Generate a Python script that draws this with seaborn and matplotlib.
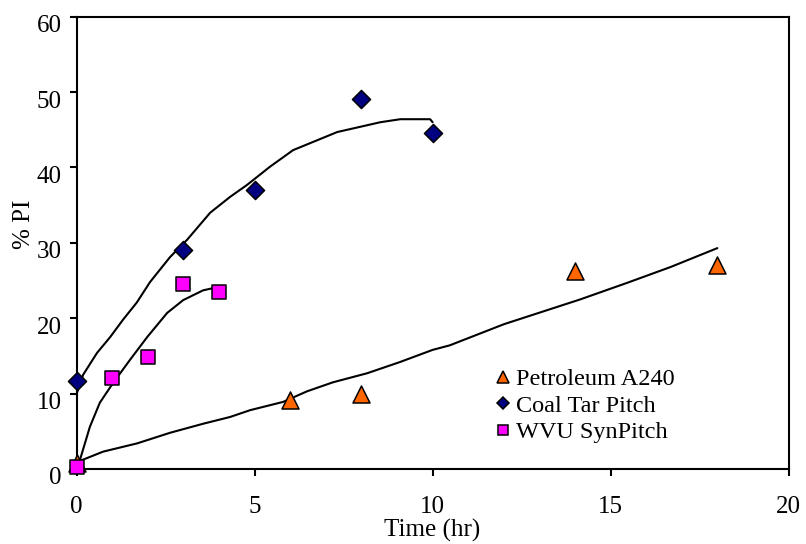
import matplotlib
matplotlib.use("Agg")
import matplotlib.pyplot as plt
import seaborn as sns
import pandas as pd
from matplotlib.lines import Line2D
from matplotlib.transforms import ScaledTranslation

# Measured points
petro_t = [0, 6, 8, 14, 18]
petro_pi = [0.8, 9.2, 10.0, 26.2, 27.1]
coal_t = [0, 3, 5, 8, 10]
coal_pi = [11.7, 29.1, 37.0, 49.1, 44.6]
wvu_t = [0, 1, 2, 3, 4]
wvu_pi = [0.3, 12.1, 14.8, 24.6, 23.5]

# Trend curves
petro_curve_t = [0, 0.74, 1.70, 2.62, 3.55, 4.31, 4.87, 5.80, 6.47, 7.20, 8.16,
                 9.09, 10.0, 10.48, 12.0, 14.15, 15.47, 16.69, 18.0]
petro_curve_pi = [0.9, 2.3, 3.4, 4.8, 6.0, 6.9, 7.8, 8.9, 10.3, 11.5, 12.7,
                  14.2, 15.8, 16.4, 19.2, 22.5, 24.7, 26.8, 29.3]
coal_curve_t = [0, 0.18, 0.57, 0.94, 1.30, 1.69, 2.06, 2.62, 3.10, 3.75, 4.31,
                4.79, 5.43, 6.08, 7.32, 8.53, 9.09, 9.93, 10.0]
coal_curve_pi = [10.0, 12.5, 15.4, 17.5, 19.8, 22.1, 24.8, 28.1, 30.4, 34.0, 36.1,
                 37.7, 40.1, 42.3, 44.7, 46.0, 46.4, 46.4, 46.0]
wvu_curve_t = [0, 0.09, 0.37, 0.65, 1.02, 1.50, 1.98, 2.54, 2.99, 3.55, 3.94, 4.03]
wvu_curve_pi = [0.3, 1.2, 5.6, 8.8, 11.4, 14.5, 17.5, 20.7, 22.4, 23.7, 24.1, 24.0]

labels = ["Petroleum A240", "Coal Tar Pitch", "WVU SynPitch"]
colors = ["#FF6600", "#000080", "#FF00FF"]
markers = ["^", "D", "s"]

sns.set_theme(style="white")
plt.rcParams["font.family"] = ["Liberation Serif", "DejaVu Serif"]
plt.rcParams["text.color"] = "black"

fig = plt.figure(figsize=(8.06, 5.44), dpi=100)
ax = fig.add_axes([0.0952, 0.1379, 0.8831, 0.8314])

curves = [(petro_curve_t, petro_curve_pi), (coal_curve_t, coal_curve_pi),
          (wvu_curve_t, wvu_curve_pi)]
for ct, cp in curves:
    sns.lineplot(x=ct, y=cp, sort=False, estimator=None, color="black",
                 linewidth=1.5, ax=ax, zorder=2)

points = [(petro_t, petro_pi, 150), (coal_t, coal_pi, 85), (wvu_t, wvu_pi, 105)]
for (pt, pp, sz), col, mk in zip(points, colors, markers):
    sns.scatterplot(x=pt, y=pp, marker=mk, s=sz, color=col, edgecolor="black",
                    linewidth=1.1, ax=ax, zorder=3, legend=False, clip_on=False)

ax.set_xlim(0, 20)
ax.set_ylim(0, 60)
ax.set_xticks([0, 5, 10, 15, 20])
ax.set_yticks([0, 10, 20, 30, 40, 50, 60])

for sp in ax.spines.values():
    sp.set_visible(True)
    sp.set_color("black")
    sp.set_linewidth(1.5)
    sp.set_zorder(1)

ax.tick_params(axis="both", which="major", direction="out", length=5, width=1.5,
               color="black", labelsize=18, labelcolor="black",
               bottom=True, left=True, top=False, right=False)
ax.tick_params(axis="x", pad=14.5)
ax.tick_params(axis="y", pad=6)

shift = ScaledTranslation(0, -7 / 100, fig.dpi_scale_trans)
for lab in ax.get_yticklabels():
    lab.set_transform(lab.get_transform() + shift)

ax.set_xlabel("Time (hr)", fontsize=18, color="black", labelpad=0.5)
ax.set_ylabel("% PI", fontsize=18, color="black")
ax.yaxis.set_label_coords(-0.058, 0.542)

handles = [
    Line2D([], [], linestyle="none", marker="^", markersize=8.5,
           markerfacecolor=colors[0], markeredgecolor="black", markeredgewidth=1.1),
    Line2D([], [], linestyle="none", marker="D", markersize=6.5,
           markerfacecolor=colors[1], markeredgecolor="black", markeredgewidth=1.1),
    Line2D([], [], linestyle="none", marker="s", markersize=7.5,
           markerfacecolor=colors[2], markeredgecolor="black", markeredgewidth=1.1),
]
leg = ax.legend(handles, labels, loc="upper left", bbox_to_anchor=(0.585, 0.223),
                frameon=False, fontsize=17.5, handlelength=0.8, handletextpad=0.15,
                labelspacing=0.19, borderpad=0, borderaxespad=0)
for t in leg.get_texts():
    t.set_color("black")

fig.savefig("out.png", dpi=100, facecolor="white")
